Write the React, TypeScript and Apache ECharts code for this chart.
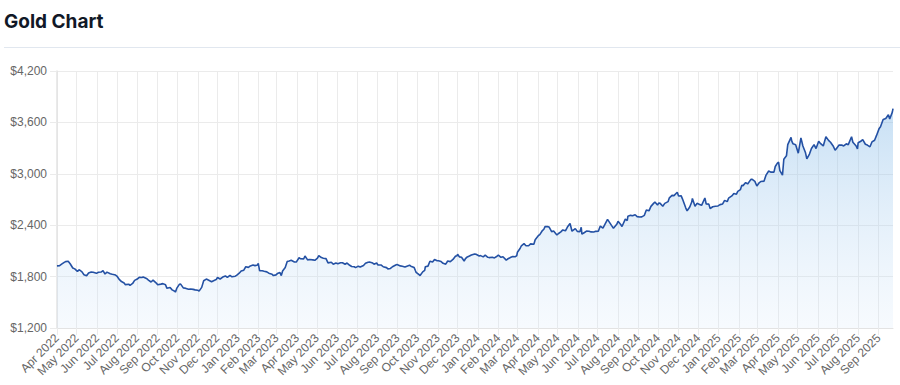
import React, { useEffect, useRef } from "react";
import * as echarts from "echarts";

const chartTitle = "Gold Chart";
const monthNames = ["Jan", "Feb", "Mar", "Apr", "May", "Jun", "Jul", "Aug", "Sep", "Oct", "Nov", "Dec"];
const yMin = 1200;
const yMax = 4200;
const yStep = 600;
const startDate = "2022-04-01";
const endDate = "2025-09-23";

const gold2022: [string, number][] = [
  ["2022-04-01", 1925], ["2022-04-05", 1928], ["2022-04-08", 1945], ["2022-04-12", 1966], ["2022-04-14", 1975], ["2022-04-18", 1979], ["2022-04-21", 1950], ["2022-04-25", 1900], ["2022-04-28", 1890],
  ["2022-05-02", 1862], ["2022-05-05", 1880], ["2022-05-09", 1855], ["2022-05-12", 1822], ["2022-05-16", 1810], ["2022-05-19", 1842], ["2022-05-23", 1853], ["2022-05-26", 1850], ["2022-05-31", 1838],
  ["2022-06-03", 1851], ["2022-06-07", 1853], ["2022-06-10", 1871], ["2022-06-13", 1830], ["2022-06-16", 1852], ["2022-06-21", 1834], ["2022-06-24", 1827], ["2022-06-29", 1818],
  ["2022-07-01", 1806], ["2022-07-05", 1764], ["2022-07-08", 1742], ["2022-07-12", 1725], ["2022-07-14", 1706], ["2022-07-19", 1711], ["2022-07-21", 1698], ["2022-07-25", 1720], ["2022-07-28", 1756],
  ["2022-08-01", 1771], ["2022-08-04", 1791], ["2022-08-08", 1789], ["2022-08-10", 1795], ["2022-08-15", 1778], ["2022-08-18", 1759], ["2022-08-22", 1737], ["2022-08-25", 1758], ["2022-08-30", 1724],
  ["2022-09-01", 1705], ["2022-09-06", 1712], ["2022-09-09", 1718], ["2022-09-13", 1704], ["2022-09-15", 1665], ["2022-09-20", 1672], ["2022-09-23", 1645], ["2022-09-27", 1630], ["2022-09-28", 1618], ["2022-09-30", 1662],
  ["2022-10-04", 1710], ["2022-10-06", 1712], ["2022-10-10", 1668], ["2022-10-13", 1665], ["2022-10-18", 1652], ["2022-10-21", 1656], ["2022-10-25", 1651], ["2022-10-28", 1645],
  ["2022-11-01", 1641], ["2022-11-03", 1630], ["2022-11-07", 1674], ["2022-11-10", 1752], ["2022-11-14", 1771], ["2022-11-17", 1760], ["2022-11-22", 1740], ["2022-11-25", 1752], ["2022-11-29", 1765],
  ["2022-12-01", 1790], ["2022-12-05", 1772], ["2022-12-09", 1795], ["2022-12-13", 1808], ["2022-12-16", 1790], ["2022-12-20", 1815], ["2022-12-23", 1798], ["2022-12-28", 1805], ["2022-12-30", 1815],
];

const gold2023: [string, number][] = [
  ["2023-01-03", 1840], ["2023-01-06", 1865], ["2023-01-10", 1875], ["2023-01-13", 1915], ["2023-01-17", 1908], ["2023-01-20", 1925], ["2023-01-24", 1935], ["2023-01-27", 1928], ["2023-01-31", 1935],
  ["2023-02-01", 1955], ["2023-02-03", 1870], ["2023-02-07", 1868], ["2023-02-10", 1862], ["2023-02-14", 1855], ["2023-02-17", 1840], ["2023-02-22", 1828], ["2023-02-24", 1812], ["2023-02-28", 1820],
  ["2023-03-02", 1835], ["2023-03-06", 1848], ["2023-03-08", 1812], ["2023-03-10", 1865], ["2023-03-14", 1905], ["2023-03-17", 1975], ["2023-03-20", 1982], ["2023-03-23", 1990], ["2023-03-28", 1970], ["2023-03-31", 1972],
  ["2023-04-04", 2020], ["2023-04-06", 2010], ["2023-04-11", 2005], ["2023-04-13", 2040], ["2023-04-17", 1995], ["2023-04-20", 2000], ["2023-04-25", 1995], ["2023-04-28", 1990],
  ["2023-05-02", 2015], ["2023-05-04", 2045], ["2023-05-08", 2022], ["2023-05-11", 2015], ["2023-05-15", 2010], ["2023-05-18", 1960], ["2023-05-23", 1968], ["2023-05-26", 1945], ["2023-05-30", 1958],
  ["2023-06-02", 1950], ["2023-06-06", 1962], ["2023-06-09", 1962], ["2023-06-13", 1945], ["2023-06-16", 1958], ["2023-06-20", 1932], ["2023-06-23", 1918], ["2023-06-27", 1915], ["2023-06-29", 1905],
  ["2023-07-03", 1922], ["2023-07-06", 1912], ["2023-07-11", 1930], ["2023-07-14", 1955], ["2023-07-18", 1968], ["2023-07-20", 1970], ["2023-07-25", 1958], ["2023-07-27", 1945], ["2023-07-31", 1958],
  ["2023-08-02", 1935], ["2023-08-07", 1935], ["2023-08-10", 1915], ["2023-08-15", 1905], ["2023-08-17", 1890], ["2023-08-21", 1895], ["2023-08-24", 1915], ["2023-08-29", 1935], ["2023-08-31", 1940],
  ["2023-09-05", 1925], ["2023-09-08", 1920], ["2023-09-12", 1912], ["2023-09-15", 1922], ["2023-09-19", 1932], ["2023-09-21", 1922], ["2023-09-26", 1905], ["2023-09-28", 1868], ["2023-09-29", 1850],
  ["2023-10-03", 1825], ["2023-10-05", 1812], ["2023-10-09", 1855], ["2023-10-12", 1872], ["2023-10-13", 1915], ["2023-10-17", 1922], ["2023-10-20", 1980], ["2023-10-24", 1970], ["2023-10-27", 2000], ["2023-10-31", 1985],
  ["2023-11-02", 1985], ["2023-11-06", 1975], ["2023-11-09", 1955], ["2023-11-13", 1945], ["2023-11-16", 1982], ["2023-11-20", 1975], ["2023-11-24", 2000], ["2023-11-28", 2040], ["2023-11-30", 2040],
  ["2023-12-01", 2060], ["2023-12-04", 2030], ["2023-12-07", 2025], ["2023-12-11", 1982], ["2023-12-13", 2010], ["2023-12-15", 2025], ["2023-12-19", 2040], ["2023-12-22", 2052], ["2023-12-27", 2065], ["2023-12-29", 2060],
];

const gold2024: [string, number][] = [
  ["2024-01-03", 2040], ["2024-01-05", 2045], ["2024-01-09", 2030], ["2024-01-12", 2050], ["2024-01-16", 2025], ["2024-01-18", 2022], ["2024-01-23", 2025], ["2024-01-26", 2018], ["2024-01-30", 2038],
  ["2024-02-01", 2050], ["2024-02-05", 2025], ["2024-02-08", 2032], ["2024-02-13", 1992], ["2024-02-15", 2005], ["2024-02-20", 2025], ["2024-02-23", 2035], ["2024-02-27", 2032], ["2024-02-29", 2045],
  ["2024-03-01", 2085], ["2024-03-05", 2128], ["2024-03-07", 2160], ["2024-03-11", 2185], ["2024-03-14", 2160], ["2024-03-18", 2160], ["2024-03-21", 2182], ["2024-03-26", 2178], ["2024-03-28", 2230],
  ["2024-04-02", 2280], ["2024-04-04", 2290], ["2024-04-08", 2338], ["2024-04-10", 2350], ["2024-04-12", 2383], ["2024-04-16", 2383], ["2024-04-18", 2380], ["2024-04-22", 2325], ["2024-04-25", 2332], ["2024-04-30", 2285],
  ["2024-05-02", 2300], ["2024-05-06", 2322], ["2024-05-09", 2345], ["2024-05-13", 2335], ["2024-05-16", 2378], ["2024-05-20", 2420], ["2024-05-23", 2330], ["2024-05-28", 2360], ["2024-05-31", 2328],
  ["2024-06-04", 2325], ["2024-06-06", 2375], ["2024-06-07", 2295], ["2024-06-11", 2315], ["2024-06-14", 2332], ["2024-06-18", 2330], ["2024-06-21", 2322], ["2024-06-25", 2320], ["2024-06-28", 2328],
  ["2024-07-02", 2330], ["2024-07-05", 2390], ["2024-07-09", 2365], ["2024-07-12", 2410], ["2024-07-16", 2468], ["2024-07-18", 2445], ["2024-07-22", 2398], ["2024-07-25", 2365], ["2024-07-30", 2410],
  ["2024-08-01", 2445], ["2024-08-05", 2408], ["2024-08-07", 2385], ["2024-08-12", 2470], ["2024-08-15", 2455], ["2024-08-16", 2505], ["2024-08-20", 2515], ["2024-08-23", 2510], ["2024-08-27", 2522], ["2024-08-30", 2500],
  ["2024-09-03", 2495], ["2024-09-06", 2497], ["2024-09-10", 2515], ["2024-09-13", 2578], ["2024-09-17", 2568], ["2024-09-20", 2620], ["2024-09-24", 2655], ["2024-09-26", 2670], ["2024-09-30", 2635],
  ["2024-10-02", 2660], ["2024-10-04", 2655], ["2024-10-08", 2622], ["2024-10-11", 2655], ["2024-10-16", 2675], ["2024-10-18", 2720], ["2024-10-22", 2748], ["2024-10-25", 2745], ["2024-10-30", 2785],
  ["2024-11-01", 2740], ["2024-11-05", 2742], ["2024-11-07", 2705], ["2024-11-12", 2600], ["2024-11-14", 2568], ["2024-11-18", 2612], ["2024-11-21", 2670], ["2024-11-22", 2712], ["2024-11-26", 2620], ["2024-11-29", 2655],
  ["2024-12-03", 2642], ["2024-12-06", 2632], ["2024-12-11", 2718], ["2024-12-13", 2648], ["2024-12-17", 2646], ["2024-12-19", 2595], ["2024-12-23", 2615], ["2024-12-27", 2622], ["2024-12-31", 2625],
];

const gold2025: [string, number][] = [
  ["2025-01-03", 2640], ["2025-01-07", 2648], ["2025-01-10", 2690], ["2025-01-14", 2675], ["2025-01-16", 2715], ["2025-01-21", 2742], ["2025-01-24", 2770], ["2025-01-28", 2762], ["2025-01-30", 2795],
  ["2025-02-03", 2815], ["2025-02-05", 2865], ["2025-02-07", 2862], ["2025-02-11", 2898], ["2025-02-14", 2882], ["2025-02-19", 2935], ["2025-02-21", 2935], ["2025-02-25", 2912], ["2025-02-28", 2858],
  ["2025-03-03", 2890], ["2025-03-06", 2910], ["2025-03-11", 2915], ["2025-03-14", 2985], ["2025-03-18", 3032], ["2025-03-21", 3020], ["2025-03-26", 3020], ["2025-03-28", 3085], ["2025-03-31", 3122],
  ["2025-04-02", 3135], ["2025-04-04", 3038], ["2025-04-08", 2985], ["2025-04-10", 3170], ["2025-04-14", 3210], ["2025-04-16", 3340], ["2025-04-21", 3425], ["2025-04-22", 3385], ["2025-04-24", 3350], ["2025-04-28", 3340], ["2025-04-30", 3290],
  ["2025-05-02", 3240], ["2025-05-06", 3420], ["2025-05-09", 3325], ["2025-05-13", 3245], ["2025-05-15", 3175], ["2025-05-19", 3230], ["2025-05-22", 3295], ["2025-05-26", 3340], ["2025-05-29", 3295],
  ["2025-06-02", 3380], ["2025-06-05", 3352], ["2025-06-09", 3325], ["2025-06-13", 3432], ["2025-06-17", 3390], ["2025-06-20", 3368], ["2025-06-24", 3325], ["2025-06-27", 3275], ["2025-06-30", 3305],
  ["2025-07-03", 3335], ["2025-07-07", 3335], ["2025-07-10", 3325], ["2025-07-14", 3350], ["2025-07-17", 3340], ["2025-07-22", 3432], ["2025-07-24", 3368], ["2025-07-29", 3325], ["2025-07-31", 3290],
  ["2025-08-01", 3362], ["2025-08-05", 3380], ["2025-08-08", 3398], ["2025-08-12", 3345], ["2025-08-15", 3335], ["2025-08-19", 3315], ["2025-08-22", 3372], ["2025-08-26", 3392], ["2025-08-29", 3448],
  ["2025-09-02", 3530], ["2025-09-04", 3550], ["2025-09-08", 3635], ["2025-09-10", 3640], ["2025-09-12", 3645], ["2025-09-16", 3690], ["2025-09-18", 3640], ["2025-09-22", 3720], ["2025-09-23", 3760],
];

const DAY = 86400000;

export default function App() {
  const ref = useRef<HTMLDivElement>(null);

  useEffect(() => {
    if (!ref.current) return;
    const chart = echarts.init(ref.current, undefined, { renderer: "svg" });
    const data = [...gold2022, ...gold2023, ...gold2024, ...gold2025];
    const gridColor = "#ebebeb";
    const labelFont = "'Liberation Sans', Arial, Helvetica, sans-serif";

    chart.setOption({
      animation: false,
      title: {
        text: chartTitle,
        left: 4,
        top: 12,
        padding: 0,
        textStyle: {
          fontFamily: "Inter, Roboto, sans-serif",
          fontSize: 19,
          fontWeight: 700,
          color: "#111827",
        },
      },
      graphic: [
        {
          type: "line",
          shape: { x1: 4, y1: 47.5, x2: 900, y2: 47.5 },
          style: { stroke: "#e1e7ef", lineWidth: 1 },
          silent: true,
        },
      ],
      grid: {
        left: 57,
        right: 7,
        top: 71,
        bottom: 57,
        containLabel: false,
        outerBoundsMode: "none",
      },
      xAxis: {
        type: "time",
        min: startDate,
        max: endDate,
        splitNumber: 40,
        minInterval: 32 * DAY,
        maxInterval: 32 * DAY,
        axisLine: { show: true, lineStyle: { color: "#e3e3e3", width: 1 } },
        axisTick: { show: true, length: 7, lineStyle: { color: gridColor } },
        splitLine: { show: true, showMaxLine: false, lineStyle: { color: gridColor, width: 1 } },
        axisLabel: {
          rotate: 45,
          margin: 8,
          fontSize: 12,
          color: "#666666",
          fontFamily: labelFont,
          hideOverlap: false,
          showMaxLabel: false,
          formatter: (value: number) => {
            const d = new Date(value);
            return monthNames[d.getMonth()] + " " + d.getFullYear();
          },
        },
      },
      yAxis: {
        type: "value",
        min: yMin,
        max: yMax,
        interval: yStep,
        axisLine: { show: true, lineStyle: { color: "#e3e3e3", width: 1.5 } },
        axisTick: { show: true, length: 7, lineStyle: { color: gridColor } },
        splitLine: { show: true, lineStyle: { color: gridColor, width: 1 } },
        axisLabel: {
          margin: 10,
          fontSize: 12,
          color: "#666666",
          fontFamily: labelFont,
          formatter: (v: number) => "$" + v.toLocaleString("en-US"),
        },
      },
      series: [
        {
          type: "line",
          data,
          showSymbol: false,
          symbol: "none",
          lineStyle: { color: "#2451a4", width: 1.6 },
          itemStyle: { color: "#2451a4" },
          areaStyle: {
            origin: "start",
            color: new echarts.graphic.LinearGradient(0, 0, 0, 1, [
              { offset: 0, color: "rgba(125,182,230,0.6)" },
              { offset: 1, color: "rgba(215,232,250,0.3)" },
            ]),
          },
        },
      ],
    });

    return () => chart.dispose();
  }, []);

  return (
    <div
      ref={ref}
      style={{ position: "fixed", left: 0, top: 0, width: 900, height: 385, background: "#fff" }}
    />
  );
}
